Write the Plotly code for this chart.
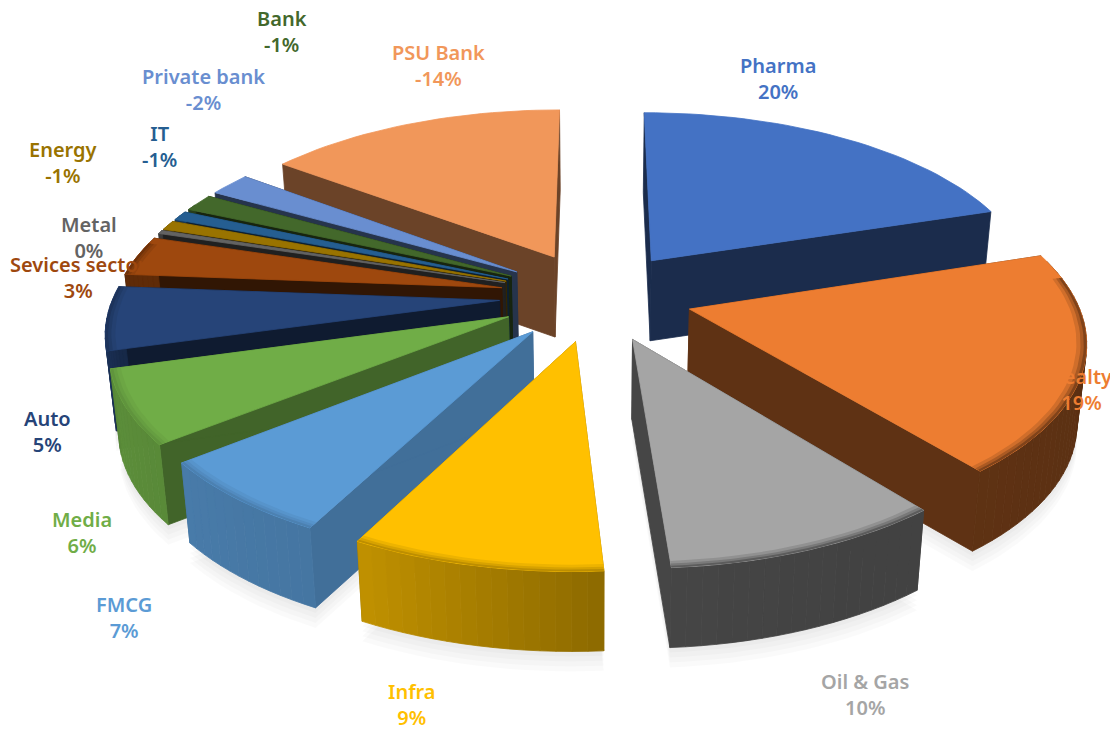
import numpy as np
import plotly.graph_objects as go

categories = ["Pharma", "Realty", "Oil & Gas", "Infra", "FMCG", "Media", "Auto",
              "Sevices sector", "Metal", "Energy", "IT", "Bank", "Private bank", "PSU Bank"]
values = [19.6, 18.6, 9.5, 8.51, 6.51, 6.2, 5.4, 3.4, 0.3, -0.8, -0.8, -1.49, -2.0, -14.4]
colors = ["#4472C4", "#ED7D31", "#A5A5A5", "#FFC000", "#5B9BD5", "#70AD47", "#264478",
          "#9E480E", "#636363", "#997300", "#255E91", "#43682B", "#698ED0", "#F1975A"]
label_x = [778, 1081, 865, 412, 124, 82, 47, 78, 89, 63, 159, 282, 203, 438]
label_y = [78, 389, 694, 704, 617, 532, 431, 277, 237, 162, 146, 31, 89, 65]

# projection settings
CX, CY, R, KR, P, EXPLODE, H = 596, 296, 386, 180, 0.15, 0.25, 80
BASE_SHRINK = 0.98


def project(X, Y):
    d = 1 - P * Y
    return CX + R * X / d, CY + KR * Y / d


def to_rgb(hexc):
    return np.array([int(hexc[i:i + 2], 16) for i in (1, 3, 5)], float)


def css(rgb):
    r, g, b = [int(round(v)) for v in rgb]
    return f"rgb({r},{g},{b})"


fig = go.Figure()


def poly(xs, ys, fill, line=True):
    fig.add_trace(go.Scatter(
        x=list(xs) + [xs[0]], y=list(ys) + [ys[0]], mode="lines", fill="toself",
        fillcolor=fill, line=dict(color=fill if line else "rgba(0,0,0,0)", width=0.8 if line else 0),
        hoverinfo="skip", showlegend=False))


def base(xs, ys):
    return CX + (np.asarray(xs) - CX) * BASE_SHRINK, np.asarray(ys) + H


def wall_factor(t):
    return np.interp(t, [90, 150, 175.5, 176, 208, 250, 272], [.38, .4, .42, .55, .76, .82, .6])


sizes = np.abs(values)
edges = np.concatenate([[0], np.cumsum(sizes)]) / sizes.sum() * 360
slices = []
for i in range(len(values)):
    a0, a1 = edges[i], edges[i + 1]
    mid = np.radians((a0 + a1) / 2)
    ox, oy = EXPLODE * np.sin(mid), -EXPLODE * np.cos(mid)
    slices.append((i, a0, a1, ox, oy, (a0 + a1) / 2))


def arc(a0, a1, ox, oy, rad=1.0):
    n = max(2, int((a1 - a0) / 2) + 2)
    t = np.radians(np.linspace(a0, a1, n))
    return project(ox + rad * np.sin(t), oy - rad * np.cos(t))


# soft ground shadow
for i, a0, a1, ox, oy, mid in slices:
    if 90 < mid < 275:
        for off in (5, 10, 15, 20):
            ax, ay = arc(a0, a1, ox, oy)
            bx, by = base(ax, ay)
            ex, ey = project(ox, oy)
            ebx, eby = base([ex], [ey])
            poly(list(bx) + [ebx[0]], list(by + off) + [eby[0] + off], "rgba(0,0,0,0.018)", line=False)

for i, a0, a1, ox, oy, mid in sorted(slices, key=lambda s: -np.cos(np.radians(s[5]))):
    top = to_rgb(colors[i])
    side = top * np.interp(mid, [36, 106, 158, 220, 244, 264, 278, 335], [.39, .4, .42, .72, .57, .4, .3, .45])
    ex, ey = project(ox, oy)
    ax, ay = arc(a0, a1, ox, oy)
    bx, by = base(ax, ay)
    ebx, eby = base([ex], [ey])
    # radial faces
    for k in (0, -1):
        poly([ex, ax[k], bx[k], ebx[0]], [ey, ay[k], by[k], eby[0]], css(side))
    # outer wall in shaded strips
    wall_t = np.linspace(a0, a1, len(ax))
    for j in range(len(ax) - 1):
        tm = (wall_t[j] + wall_t[j + 1]) / 2
        if tm < 75 or tm > 295:
            continue
        wall = top * wall_factor(tm)
        poly([ax[j], ax[j + 1], bx[j + 1], bx[j]], [ay[j], ay[j + 1], by[j + 1], by[j]], css(wall))
    # top face
    poly([ex] + list(ax), [ey] + list(ay), css(top))
    # bevelled rim on near side
    if a1 > 90 and a0 < 280:
        f_mid = wall_factor(mid)
        for rad, mix in ((.975, .2), (.985, .45), (.993, .75)):
            ix, iy = arc(max(a0, 80), min(a1, 285), ox, oy, rad)
            ox2, oy2 = arc(max(a0, 80), min(a1, 285), ox, oy, 1.0)
            colr = top * (1 - mix) + top * f_mid * mix
            poly(list(ix) + list(ox2[::-1]), list(iy) + list(oy2[::-1]), css(colr), line=False)

annotations = []
for name, v, c, lx, ly in zip(categories, values, colors, label_x, label_y):
    annotations.append(dict(
        x=lx, y=ly, xref="x", yref="y", showarrow=False, align="center",
        text=f"{name}<br>{v:.0f}%",
        font=dict(family="Noto Sans", size=20, color=c, weight=600)))

fig.update_layout(
    width=1110, height=731, margin=dict(l=0, r=0, t=0, b=0),
    paper_bgcolor="white", plot_bgcolor="white", showlegend=False,
    xaxis=dict(range=[0, 1110], visible=False, fixedrange=True),
    yaxis=dict(range=[731, 0], visible=False, fixedrange=True),
    annotations=annotations)

fig.write_html("out.html", config={"displayModeBar": False},
               post_script="document.body.style.margin='0';")
